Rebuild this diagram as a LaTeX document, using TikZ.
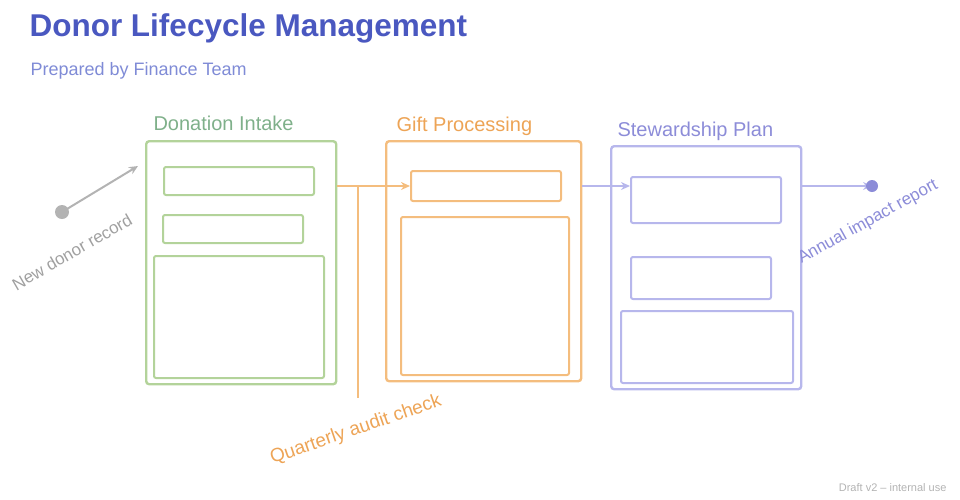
\documentclass[tikz,border=0pt]{standalone}
\usepackage{fontspec}
\setmainfont{Liberation Sans}
\usetikzlibrary{arrows.meta}
\definecolor{ttl}{HTML}{4A58C0}
\definecolor{sub}{HTML}{7F8BD6}
\definecolor{grn}{HTML}{B3D39A}
\definecolor{grnt}{HTML}{7FB08A}
\definecolor{org}{HTML}{F4BD7E}
\definecolor{orgt}{HTML}{EDA456}
\definecolor{pur}{HTML}{B7B7EC}
\definecolor{purt}{HTML}{8C8CD8}
\definecolor{gry}{HTML}{A0A0A0}
\tikzset{
  frame/.style={draw=#1, line width=2.4pt, rounded corners=3pt, inner sep=0pt},
  card/.style={draw=#1, line width=2pt, rounded corners=2pt, fill=white, inner sep=0pt},
  lanelabel/.style={text=#1, font=\fontsize{20}{22}\selectfont, anchor=west},
  conn/.style={draw=#1, line width=2pt, -{Stealth[length=9pt,width=8pt]}},
  note/.style={text=#1, font=\fontsize{17}{19}\selectfont}
}
\begin{document}
\begin{tikzpicture}[x=1pt,y=-1pt]
\useasboundingbox (0,0) rectangle (960,499);
% title
\node[anchor=west, text=ttl, font=\bfseries\fontsize{31.5}{35}\selectfont] (title) at (26,28) {Donor Lifecycle Management};
\node[anchor=west, text=sub, font=\fontsize{18}{21}\selectfont] (subtitle) at (27,71) {Prepared by Finance Team};
% green lane
\node[lanelabel=grnt] (gl) at (150,123) {Donation Intake};
\node[frame=grn, minimum width=190pt, minimum height=243pt, anchor=north west] (gf) at (145,140) {};
\node[card=grn, minimum width=150pt, minimum height=28pt, anchor=north west] (g1) at (163,166) {};
\node[card=grn, minimum width=140pt, minimum height=28pt, anchor=north west] (g2) at (162,214) {};
\node[card=grn, minimum width=170pt, minimum height=122pt, anchor=north west] (g3) at (153,255) {};
% orange lane
\node[lanelabel=orgt] (ol) at (393,126) {Gift Processing};
\node[frame=org, minimum width=195pt, minimum height=240pt, anchor=north west] (of) at (385,140) {};
\node[card=org, minimum width=150pt, minimum height=30pt, anchor=north west] (o1) at (410,170) {};
\node[card=org, minimum width=168pt, minimum height=158pt, anchor=north west] (o2) at (400,216) {};
% purple lane
\node[lanelabel=purt] (pl) at (614,131) {Stewardship Plan};
\node[frame=pur, minimum width=190pt, minimum height=243pt, anchor=north west] (pf) at (610,145) {};
\node[card=pur, minimum width=150pt, minimum height=46pt, anchor=north west] (p1) at (630,176) {};
\node[card=pur, minimum width=140pt, minimum height=42pt, anchor=north west] (p2) at (630,256) {};
\node[card=pur, minimum width=172pt, minimum height=72pt, anchor=north west] (p3) at (620,310) {};
% connectors
\coordinate (oc) at (358,186);
\draw[conn=org] (gf.east |- oc) -- (o1.west);
\coordinate (ob) at (358,398);
\draw[draw=org, line width=2pt] (oc) -- (ob);
\coordinate (pc) at (630,186);
\draw[conn=pur] (of.east |- pc) -- (pc);
\coordinate (rd) at (872,186);
\draw[conn=pur] (pf.east |- rd) -- (rd);
\fill[purt] (rd) circle (6pt);
% left note
\coordinate (ld) at (62,212);
\fill[gry!80] (ld) circle (7pt);
\draw[draw=gry!80, line width=2pt, -{Stealth[length=9pt,width=8pt]}] (ld) -- (138,166);
\node[note=gry, rotate=30] (lnote) at (72,252) {New donor record};
% bottom note
\node[note=orgt, rotate=19, font=\fontsize{19}{21}\selectfont] (bnote) at (356,430) {Quarterly audit check};
% right note
\node[note=purt, rotate=29] (rnote) at (868,222) {Annual impact report};
% footer
\node[text=gry!80, font=\fontsize{11}{13}\selectfont, anchor=east] (footer) at (950,488) {Draft v2 -- internal use};
\end{tikzpicture}
\end{document}
